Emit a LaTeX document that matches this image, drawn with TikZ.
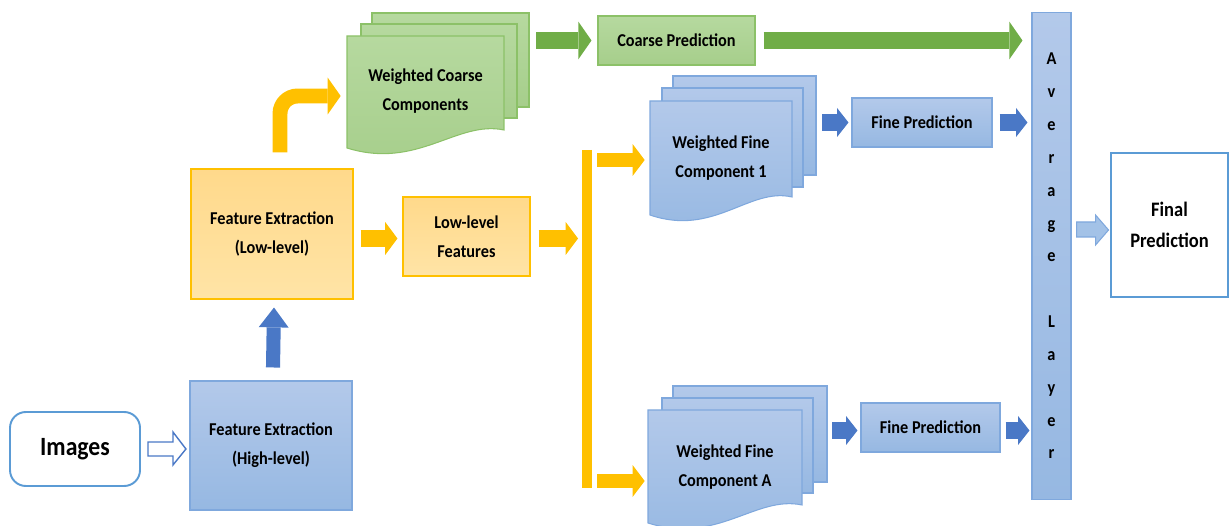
\documentclass[tikz,border=0pt]{standalone}
\usepackage{fontspec}
\setmainfont[FakeStretch=0.9]{Carlito}
\usetikzlibrary{arrows.meta,calc}

\definecolor{boxblue}{HTML}{B3C9EA}
\definecolor{boxbluedark}{HTML}{96B8E2}
\definecolor{lineblue}{HTML}{7FA8DD}
\definecolor{frameblue}{HTML}{5B9BD5}
\definecolor{boxgreen}{HTML}{B6D99F}
\definecolor{boxgreendark}{HTML}{A6CE8B}
\definecolor{linegreen}{HTML}{8CC168}
\definecolor{arrowgreen}{HTML}{70AD47}
\definecolor{boxyellow}{HTML}{FFD98B}
\definecolor{boxyellowlight}{HTML}{FFE4A6}
\definecolor{arrowyellow}{HTML}{FFC000}
\definecolor{arrowblue}{HTML}{4A78C6}
\definecolor{arrowlight}{HTML}{A3C2E7}

\tikzset{
  txt/.style={font=\fontsize{10.3}{16.5}\selectfont\bfseries, align=center, text=black, inner sep=2pt},
  bluebox/.style={txt, rectangle, draw=lineblue, top color=boxblue, bottom color=boxbluedark, line width=0.6pt},
  greenbox/.style={txt, rectangle, draw=linegreen, top color=boxgreen, bottom color=boxgreendark, line width=0.6pt},
  yellowbox/.style={txt, rectangle, draw=arrowyellow, top color=boxyellow, bottom color=boxyellowlight, line width=0.6pt},
  framebox/.style={rectangle, draw=frameblue, fill=white, line width=1.1pt, align=center, text=black},
  docnode/.style={txt, rectangle},
  bluesheet/.style={draw=lineblue, top color=boxblue, bottom color=boxbluedark, line width=0.6pt},
  greensheet/.style={draw=linegreen, top color=boxgreen, bottom color=boxgreendark, line width=0.6pt},
  yarrow/.style={draw=arrowyellow, line width=9.6pt, -{Triangle[length=7pt,width=18.7pt,line width=0pt]}},
  ybranch/.style={draw=arrowyellow, line width=8.2pt, -{Triangle[length=6.8pt,width=18pt,line width=0pt]}},
  ycurve/.style={draw=arrowyellow, line width=8.5pt, rounded corners=10pt, -{Triangle[length=7.4pt,width=21pt,line width=0pt]}},
  ybar/.style={draw=arrowyellow, line width=6.2pt},
  garrow/.style={draw=arrowgreen, line width=10pt, -{Triangle[length=7.5pt,width=21.5pt,line width=0pt]}},
  barrow/.style={draw=arrowblue, line width=9.5pt, -{Triangle[length=6.5pt,width=16.5pt,line width=0pt]}},
  uparrow/.style={draw=arrowblue, line width=8pt, -{Triangle[length=11.3pt,width=17pt,line width=0pt]}},
  hollowarrow/.style={draw=arrowblue, fill=white, line width=0.8pt, line join=miter},
  lightarrow/.style={draw=lineblue, fill=arrowlight, line width=0.6pt}
}

% sheet with wavy lower edge: style, left, top, right, bottom (right side)
\newcommand{\docpage}[5]{%
  \path[#1] (#2,#3) -- (#4,#3) -- (#4,#5)
    .. controls ({#4-0.3*(#4-#2)},{#5-10}) and ({#2+0.45*(#4-#2)},{#5+40}) .. (#2,{#5+18}) -- cycle;}

\begin{document}
\begin{tikzpicture}[x=0.02cm, y=-0.02cm]
    \useasboundingbox (0,0) rectangle (1230,526);

    % Stacks behind the components
    \path[greensheet] (372,13) rectangle (529,107);
    \path[greensheet] (361,24) rectangle (517,118);
    \docpage{greensheet}{347}{36}{504}{130}
    \path[bluesheet] (673,76) rectangle (816,175);
    \path[bluesheet] (662,88) rectangle (803,187);
    \docpage{bluesheet}{650}{101}{792}{197}
    \path[bluesheet] (673,386) rectangle (827,482);
    \path[bluesheet] (662,398) rectangle (813,493);
    \docpage{bluesheet}{648}{410}{802}{505}

    % Input and feature extraction
    \node[framebox, rounded corners=9pt, minimum width=2.6cm, minimum height=1.48cm,
          font=\fontsize{15}{18}\selectfont\bfseries] (img) at (75,449) {Images};
    \node[bluebox, minimum width=3.24cm, minimum height=2.58cm] (feh) at (271,445.5) {Feature Extraction\\(High-level)};
    \node[yellowbox, minimum width=3.24cm, minimum height=2.6cm] (fel) at (272,234) {Feature Extraction\\(Low-level)};
    \node[yellowbox, minimum width=2.54cm, minimum height=1.58cm] (llf) at (466.5,236.5) {Low-level\\Features};

    % Components
    \node[docnode, minimum width=3.14cm, minimum height=2.2cm] (wcc) at (425.5,91) {Weighted Coarse\\Components};
    \node[docnode, minimum width=2.84cm, minimum height=2.36cm] (wf1) at (721,158) {Weighted Fine\\Component 1};
    \node[docnode, minimum width=3.08cm, minimum height=2.28cm] (wfa) at (725,467) {Weighted Fine\\Component A};

    % Predictions
    \node[greenbox, minimum width=3.14cm, minimum height=0.98cm] (cp) at (676.5,40.5) {Coarse Prediction};
    \node[bluebox, minimum width=2.8cm, minimum height=0.98cm] (fp1) at (922,122.5) {Fine Prediction};
    \node[bluebox, minimum width=2.78cm, minimum height=0.98cm] (fp2) at (930.5,427.5) {Fine Prediction};
    \node[bluebox, minimum width=0.78cm, minimum height=9.74cm, font=\fontsize{10.3}{18.7}\selectfont\bfseries] (avg) at (1051.5,256)
        {A\\v\\e\\r\\a\\g\\e\\[18.7pt]L\\a\\y\\e\\r};
    \node[framebox, minimum width=2.34cm, minimum height=2.88cm, font=\fontsize{11.7}{18}\selectfont\bfseries] (fin) at (1169.5,225) {Final\\Prediction};

    % Branch bar
    \coordinate (bt) at (587,150);
    \coordinate (bb) at (587,488);

    % Arrows
    \draw[hollowarrow] ($(img.east)+(7,-7)$) -- ++(25,0) -- ++(0,-10) -- ++(13,17) -- ++(-13,16) -- ++(0,-9) -- ++(-25,0) -- cycle;
    \draw[uparrow] ($(feh.north)+(2,-13)$) -- ($(fel.south)+(2,8)$);
    \draw[yarrow] ($(fel.east |- llf.west)+(7,2)$) -- ($(llf.west)+(-5,2)$);
    \draw[yarrow] ($(llf.east)+(8,2)$) -- ($(llf.east -| bt)+(-9,2)$);
    \draw[ybar] (bt) -- (bb);
    \draw[ybranch] ($(bt |- wf1.west)+(10,2)$) -- ($(wf1.west)+(-5,2)$);
    \draw[ybranch] ($(bb |- wfa.west)+(10,14)$) -- ($(wfa.west)+(-3,14)$);
    \draw[ycurve] ($(fel.north)+(8,-16)$) |- ($(wcc.west)+(-6,5)$);

    \draw[garrow] ($(wcc.east |- cp.west)+(32,0)$) -- ($(cp.west)+(-6,0)$);
    \draw[garrow] ($(cp.east)+(8,0)$) -- ($(cp.east -| avg.west)+(-9,0)$);

    \draw[barrow] ($(wf1.east |- fp1.west)+(30,0)$) -- ($(fp1.west)+(-3,0)$);
    \draw[barrow] ($(fp1.east)+(7,0)$) -- ($(fp1.east -| avg.west)+(-4,0)$);
    \draw[barrow] ($(wfa.east |- fp2.west)+(30,3)$) -- ($(fp2.west)+(-3,3)$);
    \draw[barrow] ($(fp2.east)+(5,3)$) -- ($(fp2.east -| avg.west)+(-2,3)$);

    \draw[lightarrow] ($(avg.east |- fin.west)+(5,-3)$) -- ++(19,0) -- ++(0,-7) -- ++(13,15) -- ++(-13,15) -- ++(0,-8) -- ++(-19,0) -- cycle;
\end{tikzpicture}
\end{document}
